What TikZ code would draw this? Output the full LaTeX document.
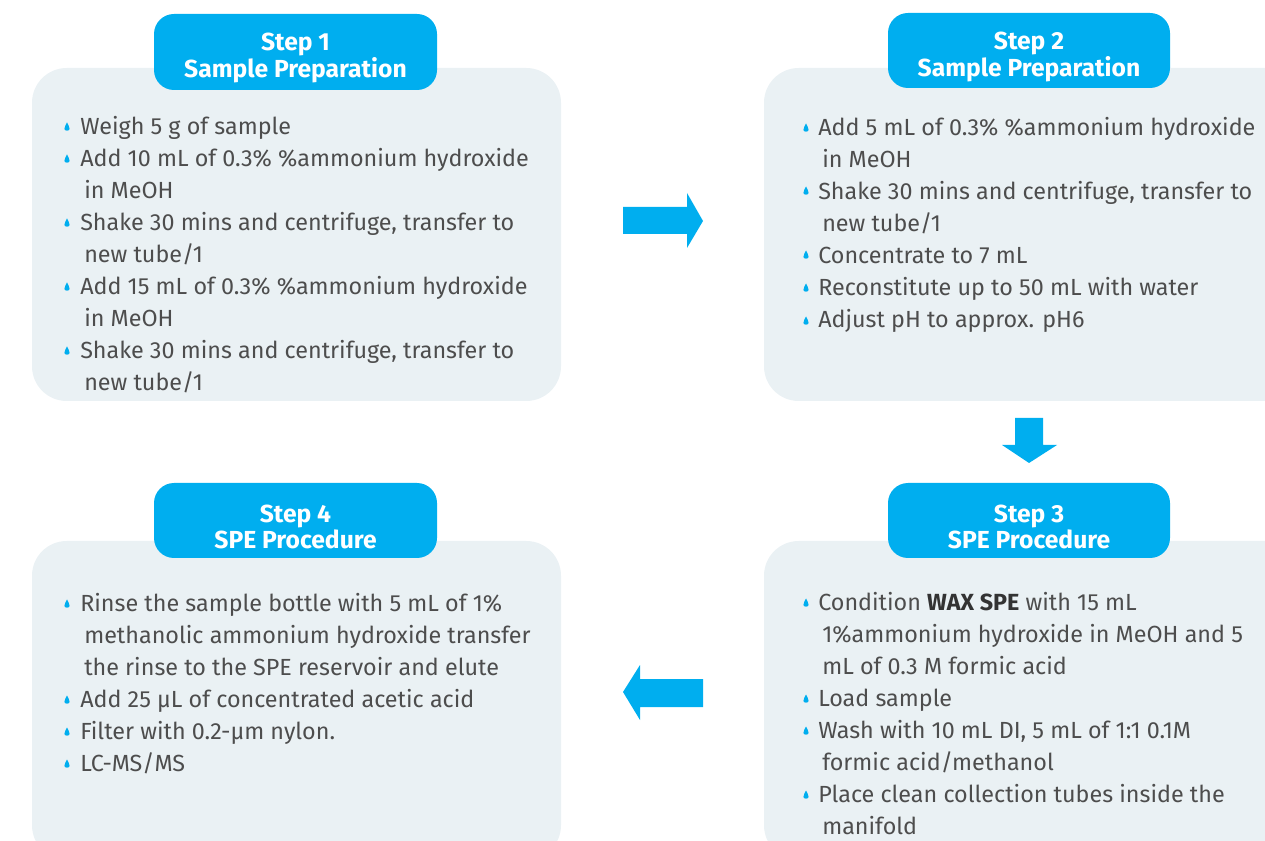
\documentclass[tikz,border=0pt]{standalone}
\usepackage{fontspec}
\setmainfont{Fira Sans}
\usetikzlibrary{positioning}

\definecolor{stepblue}{HTML}{00AEEF}
\definecolor{panelgray}{HTML}{EAF1F4}
\definecolor{bodygray}{HTML}{4D4D4D}

\newcommand{\cnt}{\hspace*{3pt}}

\tikzset{
	panel/.style={fill=panelgray, rounded corners=26pt},
	headbox/.style={fill=stepblue, rounded corners=15pt},
	headtext/.style={text=white, align=center, inner sep=0pt,
		font=\bfseries\fontsize{18.5}{20}\selectfont},
	steps/.style={anchor=north west, inner sep=0pt, align=left, text=bodygray,
		font=\fontsize{17.5}{24}\selectfont},
	blockarrow/.style={fill=stepblue},
	drop/.pic={
		\fill[stepblue] (0,-4.5) .. controls (1,-2) and (2.8,0) .. (2.6,2)
		.. controls (2.3,4.2) and (-2.3,4.2) .. (-2.6,2)
		.. controls (-2.8,0) and (-1,-2) .. cycle;
	}
}

\begin{document}
\begin{tikzpicture}[x=0.75pt, y=-0.75pt]
	\useasboundingbox (0,0) rectangle (1265,841);
	\clip (0,0) rectangle (1265,841);
	
	% panels
	\fill[panel] (32,68) rectangle (561,401);
	\fill[panel] (764,68) rectangle (1310,401);
	\fill[panel] (764,541) rectangle (1310,860);
	\fill[panel] (32,541) rectangle (561,860);
	
	% headers
	\fill[headbox] (154,14) rectangle (437,90);
	\fill[headbox] (888,13) rectangle (1170,88);
	\fill[headbox] (888,483) rectangle (1170,558);
	\fill[headbox] (154,483) rectangle (437,558);
	\node[headtext] (head1) at (295.5,58) {Step 1\\Sample Preparation};
	\node[headtext] (head2) at (1029,57) {Step 2\\Sample Preparation};
	\node[headtext] (head3) at (1029,527) {Step 3\\SPE Procedure};
	\node[headtext] (head4) at (295.5,527) {Step 4\\SPE Procedure};
	
	% step 1
	\foreach \y in {127,159,223,287,351}
		\pic at (67,\y) {drop};
	\node[steps] (list1) at (80,116) {Weigh 5 g of sample\\
		Add 10 mL of 0.3\% \%ammonium hydroxide\\
		\cnt in MeOH\\
		Shake 30 mins and centrifuge, transfer to\\
		\cnt new tube/1\\
		Add 15 mL of 0.3\% \%ammonium hydroxide\\
		\cnt in MeOH\\
		Shake 30 mins and centrifuge, transfer to\\
		\cnt new tube/1};
	
	% step 2
	\foreach \y in {128,191,255,288,321}
		\pic at (806,\y) {drop};
	\node[steps] (list2) at (818,117) {Add 5 mL of 0.3\% \%ammonium hydroxide\\
		\cnt in MeOH\\
		Shake 30 mins and centrifuge, transfer to\\
		\cnt new tube/1\\
		Concentrate to 7 mL\\
		Reconstitute up to 50 mL with water\\
		Adjust pH to approx. pH6};
	
	% step 3
	\foreach \y in {603,699,731,795}
		\pic at (806,\y) {drop};
	\node[steps] (list3) at (818,592) {Condition \textbf{\color{black!80}WAX SPE} with 15 mL\\
		\cnt 1\%ammonium hydroxide in MeOH and 5\\
		\cnt mL of 0.3 M formic acid\\
		Load sample\\
		Wash with 10 mL DI, 5 mL of 1:1 0.1M\\
		\cnt formic acid/methanol\\
		Place clean collection tubes inside the\\
		\cnt manifold};
	
	% step 4
	\foreach \y in {604,700,732,764}
		\pic at (67,\y) {drop};
	\node[steps] (list4) at (80,593) {Rinse the sample bottle with 5 mL of 1\%\\
		\cnt methanolic ammonium hydroxide transfer\\
		\cnt the rinse to the SPE reservoir and elute\\
		Add 25 µL of concentrated acetic acid\\
		Filter with 0.2-µm nylon.\\
		LC-MS/MS};
	
	% arrows between steps
	\fill[blockarrow] (623,207) -- (687,207) -- (687,193) -- (703,221)
		-- (687,248) -- (687,234) -- (623,234) -- cycle;
	\fill[blockarrow] (1015,418) -- (1043,418) -- (1043,445) -- (1057,445)
		-- (1029,463) -- (1002,445) -- (1015,445) -- cycle;
	\fill[blockarrow] (703,679) -- (640,679) -- (640,665) -- (623,692)
		-- (640,720) -- (640,707) -- (703,707) -- cycle;
\end{tikzpicture}
\end{document}
